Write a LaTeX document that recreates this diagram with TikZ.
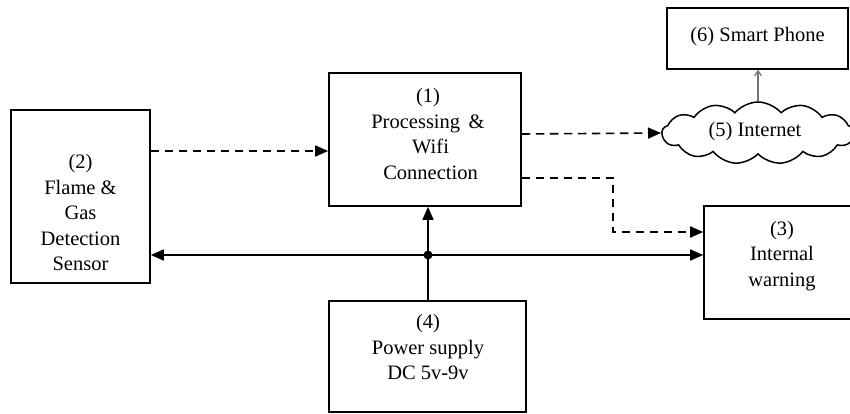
\documentclass[tikz,border=0pt]{standalone}
\usepackage{fontspec}
\setmainfont{Liberation Serif}
\usetikzlibrary{arrows.meta,shapes.symbols}
\begin{document}
\begin{tikzpicture}[x=1pt,y=-1pt,
  box/.style={draw,line width=1.6pt,inner sep=0pt,rectangle},
  txt/.style={align=center,inner sep=0pt,font=\rmfamily\fontsize{20.5}{25.5}\selectfont},
  conn/.style={line width=1.6pt,-{Triangle[length=13pt,width=11pt]}},
  dashline/.style={dash pattern=on 8.5pt off 5.5pt}
]
\useasboundingbox (0,0) rectangle (850,414);
\begin{scope}
\clip (0,0) rectangle (850,414);
% boxes
\node[box,minimum width=192pt,minimum height=133pt] (proc) at (425,139.5) {};
\node[box,minimum width=139pt,minimum height=173pt] (sens) at (80.5,196.5) {};
\node[box,minimum width=156pt,minimum height=113pt] (warn) at (782,262.5) {};
\node[box,minimum width=197pt,minimum height=111pt] (power) at (427.5,356.5) {};
\node[box,minimum width=181pt,minimum height=61pt] (phone) at (757.5,38.5) {};
\node[cloud,draw,line width=1.5pt,cloud puffs=13,cloud puff arc=100,cloud ignores aspect,minimum width=192pt,minimum height=62pt,inner sep=0pt] (cloud) at (758,133) {};
% texts
\node[txt] (proct) at (428,134) {(1)\\Processing \,\&\\\ Wifi\\\ Connection};
\node[txt] (senst) at (80.5,212.5) {(2)\\Flame \&\\Gas\\Detection\\Sensor};
\node[txt] (warnt) at (782,256) {(3)\\Internal\\warning};
\node[txt] (powert) at (428,347) {(4)\\Power supply\\DC 5v-9v};
\node[txt] (phonet) at (757.5,37) {(6) Smart Phone};
\node[txt] (cloudt) at (755,132) {(5) Internet};
% connectors
\coordinate (j) at (428,255);
\coordinate (bend) at (613,232);
\draw[conn,dashline] (sens.east |- 0,151) -- (proc.west |- 0,151);
\draw[conn,dashline] (proc.east |- 0,134) -- (cloud.west);
\draw[conn,dashline] (proc.east |- 0,178) -| (bend) -- (warn.west |- bend);
\draw[line width=1.6pt,{Triangle[length=13pt,width=11pt]}-{Triangle[length=13pt,width=11pt]}] (sens.east |- j) -- (warn.west |- j);
\draw[conn] (j) -- (j |- proc.south);
\draw[line width=1.6pt] (j) -- (j |- power.north);
\fill (j) circle (4.5pt);
\draw[black!55,line width=1.2pt,-{Straight Barb[length=5pt,width=7pt]}] (cloud.north) -- (phone.south -| cloud.north);
\end{scope}
\end{tikzpicture}
\end{document}
